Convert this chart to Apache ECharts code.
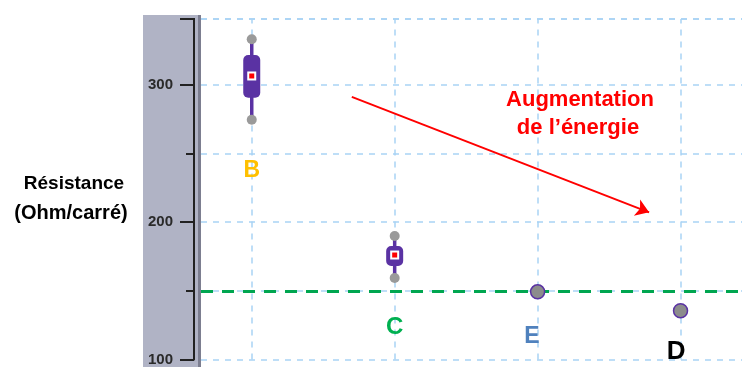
<!DOCTYPE html>
<html>
<head>
<meta charset="utf-8">
<script src="https://cdn.jsdelivr.net/npm/echarts@6/dist/echarts.min.js"></script>
<style>
  html, body { margin: 0; padding: 0; background: #fff; }
  #main { width: 742px; height: 367px; }
</style>
</head>
<body>
<div id="main"></div>
<script>
// données
var categories = ['B', 'C', 'E', 'D'];
var categoryX = [1, 2, 3, 4];
// [min, Q1, médiane, Q3, max]
var boxB = [274.6, 290.6, 306.5, 321.7, 333.3];
var boxC = [159.4, 168.1, 176.1, 182.6, 189.9];
var pointE = 149.3;
var pointD = 135.5;
var refValue = 150;
var yTicks = [100, 200, 300];
var yMin = 100, yMax = 348;
var labelColors = ['#ffc000', '#00b050', '#4f81bd', '#000000'];
var labelXs = [1.0, 2.0, 2.96, 3.97];
var labelYs = [237.7, 123.2, 116.7, 105.8];
var labelSizes = [23, 24, 23, 26];
var arrowFrom = [1.70, 291.3];
var arrowTo = [3.78, 207.2];

var purple = '#5a32a3';
var gridBlue = '#a9d3f5';

var chart = echarts.init(document.getElementById('main'));

function renderBox(params, api) {
  var x = api.value(0);
  var pMin = api.coord([x, api.value(1)]);
  var pQ1 = api.coord([x, api.value(2)]);
  var pMed = api.coord([x, api.value(3)]);
  var pQ3 = api.coord([x, api.value(4)]);
  var pMax = api.coord([x, api.value(5)]);
  var w = 17;
  return {
    type: 'group',
    children: [
      { type: 'line', shape: { x1: pMin[0], y1: pMin[1], x2: pMax[0], y2: pMax[1] },
        style: { stroke: purple, lineWidth: 3.5 } },
      { type: 'rect', shape: { x: pQ3[0] - w / 2, y: pQ3[1], width: w, height: pQ1[1] - pQ3[1], r: 5 },
        style: { fill: purple } },
      { type: 'circle', shape: { cx: pMax[0], cy: pMax[1], r: 5 }, style: { fill: '#9a9a9a' } },
      { type: 'circle', shape: { cx: pMin[0], cy: pMin[1], r: 5 }, style: { fill: '#9a9a9a' } },
      { type: 'rect', shape: { x: pMed[0] - 4.5, y: pMed[1] - 4.5, width: 9, height: 9 }, style: { fill: '#ffffff' } },
      { type: 'rect', shape: { x: pMed[0] - 2.5, y: pMed[1] - 2.5, width: 5, height: 5 }, style: { fill: '#ff0000' } }
    ]
  };
}

var gridLineStyle = { color: gridBlue, width: 1.5, type: [6, 6] };

chart.setOption({
  animation: false,
  grid: { left: 201, right: 0, top: 19, bottom: 6 },
  xAxis: { type: 'value', min: 0.645, max: 4.43, show: false },
  yAxis: [
    {
      type: 'value', min: yMin, max: yMax, interval: 100, position: 'left', offset: 7, z: 3,
      axisLine: { show: true, lineStyle: { color: '#222', width: 2 } },
      axisTick: { show: true, length: 14, lineStyle: { color: '#222', width: 2 } },
      axisLabel: {
        margin: 21, color: '#2a2a2a', fontWeight: 'bold', fontSize: 15, fontFamily: 'Liberation Sans',
        formatter: function (v) { return yTicks.indexOf(v) >= 0 ? String(v) : ''; }
      },
      splitLine: { show: false }
    },
    {
      type: 'value', min: yMin, max: yMax, interval: 50, position: 'left', offset: 7, z: 1,
      axisLine: { show: false },
      axisTick: { show: true, length: 8, lineStyle: { color: '#222', width: 2 } },
      axisLabel: { show: false },
      splitLine: { show: true, lineStyle: gridLineStyle }
    }
  ],
  graphic: [
    { type: 'rect', z: -10, shape: { x: 143, y: 15, width: 57, height: 352 }, style: { fill: '#b0b3c5' } },
    { type: 'rect', z: -9, shape: { x: 198, y: 15, width: 3, height: 352 }, style: { fill: '#7c7e90' } },
    { type: 'line', z: 10, shape: { x1: 185, y1: 19, x2: 195, y2: 19 }, style: { stroke: '#222', lineWidth: 2 } },
    { type: 'text', z: 10, style: {
        x: 74, y: 184, text: 'Résistance', textAlign: 'center', textVerticalAlign: 'middle',
        font: 'bold 19px "Liberation Sans"', fill: '#000' } },
    { type: 'text', z: 10, style: {
        x: 71, y: 213, text: '(Ohm/carré)', textAlign: 'center', textVerticalAlign: 'middle',
        font: 'bold 20px "Liberation Sans"', fill: '#000' } },
    { type: 'text', z: 10, style: {
        x: 580, y: 100, text: 'Augmentation', textAlign: 'center', textVerticalAlign: 'middle',
        font: 'bold 22px "Liberation Sans"', fill: '#ff0000' } },
    { type: 'text', z: 10, style: {
        x: 578, y: 128, text: 'de l\u2019énergie', textAlign: 'center', textVerticalAlign: 'middle',
        font: 'bold 22px "Liberation Sans"', fill: '#ff0000' } }
  ],
  series: [
    {
      type: 'line', data: [], z: 1, silent: true,
      markLine: {
        z: 1, silent: true, symbol: 'none', label: { show: false }, lineStyle: gridLineStyle,
        data: categoryX.map(function (x) { return { xAxis: x }; }).concat([{ yAxis: yMax }])
      }
    },
    {
      type: 'line', data: [], z: 2, silent: true,
      markLine: {
        z: 4, silent: true, symbol: 'none', label: { show: false },
        lineStyle: { color: '#00a650', width: 3, type: [12, 9] },
        data: [{ yAxis: refValue }]
      }
    },
    {
      type: 'custom', z: 5, renderItem: renderBox,
      data: [[categoryX[0]].concat(boxB), [categoryX[1]].concat(boxC)]
    },
    {
      type: 'scatter', z: 6, symbolSize: 14,
      itemStyle: { color: '#8c8c8c', borderColor: purple, borderWidth: 1.5, opacity: 1 },
      data: [[categoryX[2], pointE], [categoryX[3], pointD]]
    },
    {
      type: 'scatter', z: 7, symbolSize: 0, silent: true,
      itemStyle: { opacity: 1 },
      data: categories.map(function (c, i) {
        return {
          value: [labelXs[i], labelYs[i]], name: c,
          label: {
            show: true, position: 'inside', formatter: c, color: labelColors[i],
            textBorderWidth: 0, opacity: 1,
            fontSize: labelSizes[i], fontWeight: 'bold', fontFamily: 'Liberation Sans'
          }
        };
      })
    },
    {
      type: 'line', data: [], z: 8, silent: true,
      markLine: {
        z: 10, silent: true, symbol: ['none', 'arrow'], symbolSize: 13, label: { show: false },
        lineStyle: { color: '#ff0000', width: 2, type: 'solid' },
        data: [[{ coord: arrowFrom }, { coord: arrowTo }]]
      }
    }
  ]
});
</script>
</body>
</html>
